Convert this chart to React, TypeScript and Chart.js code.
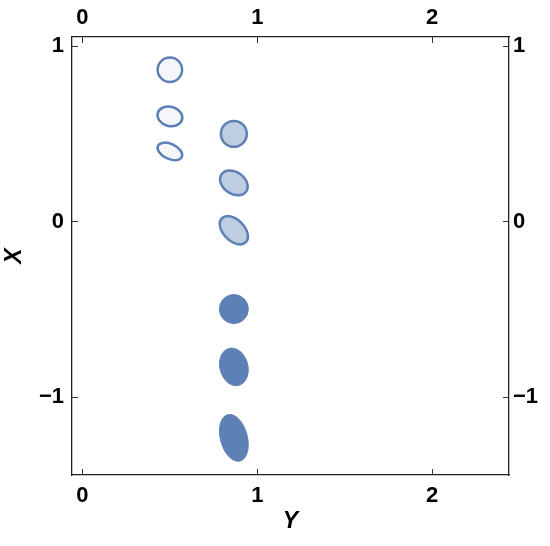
import React, { useEffect, useRef } from 'react';
import { Chart, registerables } from 'chart.js';

Chart.register(...registerables);

// Horizontal axis (labelled "Y") centre of each ellipse
const centerY = [0.5, 0.5, 0.5, 0.866, 0.866, 0.866, 0.866, 0.866, 0.866];
// Vertical axis (labelled "X") centre of each ellipse
const centerX = [0.866, 0.6, 0.4, 0.5, 0.22, -0.05, -0.5, -0.83, -1.235];
// Semi-axes (data units) along the ellipse's own axes
const semiA = [0.07, 0.072, 0.075, 0.074, 0.086, 0.097, 0.083, 0.08, 0.077];
const semiB = [0.07, 0.055, 0.043, 0.074, 0.062, 0.06, 0.083, 0.109, 0.137];
// Tilt in degrees (clockwise on screen)
const tiltDeg = [0, 15, 25, 0, 35, 45, 0, -15, -15];
// Fill group of each ellipse
const group = ['open', 'open', 'open', 'mid', 'mid', 'mid', 'dark', 'dark', 'dark'];

const xTicks = [0, 1, 2];
const yTicks = [-1, 0, 1];

const STROKE = '#5E81B5';
const FILLS: Record<string, string> = {
  open: 'rgba(94,129,181,0.07)',
  mid: 'rgba(94,129,181,0.4)',
  dark: '#5E81B5',
};

const fmt = (v: number) => (v < 0 ? '\u2212' + Math.abs(v) : String(v));

export default function App() {
  const ref = useRef<HTMLCanvasElement>(null);

  useEffect(() => {
    document.body.style.margin = '0';
    const canvas = ref.current;
    if (!canvas) return;

    const ellipsePlugin = {
      id: 'ellipses',
      afterDatasetsDraw(chart: any) {
        const { ctx, scales, chartArea } = chart;
        const sx = scales.x;
        const sy = scales.y;
        ctx.save();
        ctx.beginPath();
        ctx.rect(chartArea.left, chartArea.top, chartArea.right - chartArea.left, chartArea.bottom - chartArea.top);
        ctx.clip();
        for (let i = 0; i < centerY.length; i++) {
          const cx = sx.getPixelForValue(centerY[i]);
          const cy = sy.getPixelForValue(centerX[i]);
          const rx = Math.abs(sx.getPixelForValue(centerY[i] + semiA[i]) - cx);
          const ry = Math.abs(sy.getPixelForValue(centerX[i] + semiB[i]) - cy);
          ctx.beginPath();
          ctx.ellipse(cx, cy, rx, ry, (tiltDeg[i] * Math.PI) / 180, 0, Math.PI * 2);
          ctx.fillStyle = FILLS[group[i]];
          ctx.fill();
          ctx.strokeStyle = STROKE;
          ctx.lineWidth = group[i] === 'dark' ? 1 : 2.5;
          ctx.stroke();
        }
        ctx.restore();
      },
    };

    const tickPlugin = {
      id: 'inTicks',
      afterDraw(chart: any) {
        const { ctx, chartArea } = chart;
        const len = 6;
        ctx.save();
        ctx.strokeStyle = '#333';
        ctx.lineWidth = 1;
        const defs: [string, string][] = [
          ['x', 'bottom'],
          ['x2', 'top'],
          ['y', 'left'],
          ['y2', 'right'],
        ];
        for (const [id, pos] of defs) {
          const s = chart.scales[id];
          for (const t of s.ticks) {
            const p = Math.round(s.getPixelForValue(t.value)) + 0.5;
            ctx.beginPath();
            if (pos === 'bottom') {
              ctx.moveTo(p, chartArea.bottom);
              ctx.lineTo(p, chartArea.bottom - len);
            } else if (pos === 'top') {
              ctx.moveTo(p, chartArea.top);
              ctx.lineTo(p, chartArea.top + len);
            } else if (pos === 'left') {
              ctx.moveTo(chartArea.left, p);
              ctx.lineTo(chartArea.left + len, p);
            } else {
              ctx.moveTo(chartArea.right, p);
              ctx.lineTo(chartArea.right - len, p);
            }
            ctx.stroke();
          }
        }
        ctx.restore();
      },
    };

    const tickFont = { family: "'Liberation Sans', Arial, sans-serif", size: 22, weight: 'bold' as const };
    const titleFont = { family: "'Liberation Sans', Arial, sans-serif", size: 23, weight: 'bold' as const, style: 'italic' as const };
    const border = { display: true, color: '#222', width: 1.3 };
    const grid = { display: false, drawTicks: false };

    const xBase = {
      type: 'linear' as const,
      min: -0.06,
      max: 2.44,
      grid,
      border,
      afterBuildTicks: (s: any) => {
        s.ticks = xTicks.map((v) => ({ value: v }));
      },
    };
    const yBase = {
      type: 'linear' as const,
      min: -1.447,
      max: 1.053,
      grid,
      border,
      afterBuildTicks: (s: any) => {
        s.ticks = yTicks.map((v) => ({ value: v }));
      },
    };

    const chart = new Chart(canvas, {
      type: 'scatter',
      data: {
        datasets: [
          {
            data: centerY.map((v, i) => ({ x: v, y: centerX[i] })),
            pointRadius: 0,
            pointHoverRadius: 0,
            xAxisID: 'x',
            yAxisID: 'y',
          },
        ],
      },
      options: {
        responsive: false,
        animation: false,
        devicePixelRatio: 1,
        layout: { padding: 0 },
        plugins: { legend: { display: false }, tooltip: { enabled: false } },
        events: [],
        scales: {
          x: {
            ...xBase,
            position: 'bottom',
            ticks: { font: tickFont, color: '#000', padding: 8, callback: (v: any) => fmt(v) },
            title: { display: true, text: 'Y', font: titleFont, color: '#000', padding: { top: 0, bottom: 11 } },
            afterFit: (s: any) => {
              s.height = 71;
            },
          },
          x2: {
            ...xBase,
            position: 'top',
            ticks: { font: tickFont, color: '#000', padding: 6, callback: (v: any) => fmt(v) },
            afterFit: (s: any) => {
              s.height = 37;
            },
          },
          y: {
            ...yBase,
            position: 'left',
            ticks: { font: tickFont, color: '#000', padding: 8, callback: (v: any) => fmt(v) },
            title: { display: true, text: 'X', font: titleFont, color: '#000', padding: { top: 1, bottom: 0 } },
            afterFit: (s: any) => {
              s.width = 72;
            },
          },
          y2: {
            ...yBase,
            position: 'right',
            ticks: { font: tickFont, color: '#000', padding: 4, callback: (v: any) => fmt(v) },
            afterFit: (s: any) => {
              s.width = 41;
            },
          },
        },
      },
      plugins: [ellipsePlugin, tickPlugin],
    } as any);

    return () => chart.destroy();
  }, []);

  return (
    <div style={{ width: 550, height: 546 }}>
      <canvas ref={ref} width={550} height={546} style={{ display: 'block' }} />
    </div>
  );
}
